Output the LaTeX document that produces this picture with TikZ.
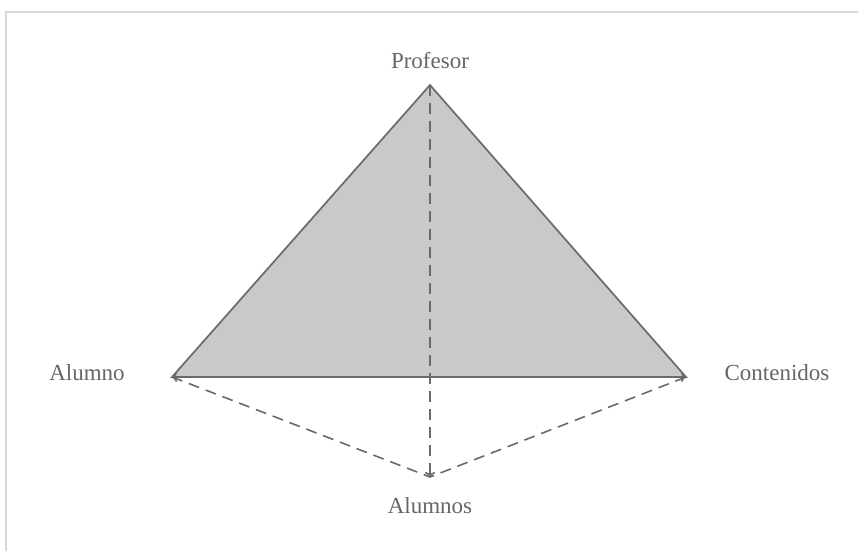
\documentclass[tikz,border=0pt]{standalone}
\usepackage{fontspec}
\setmainfont{Liberation Serif}
\usetikzlibrary{arrows.meta}
\definecolor{edge}{HTML}{6A6A6A}
\definecolor{fillg}{HTML}{C9C9C9}
\definecolor{txt}{HTML}{666666}
\definecolor{frame}{HTML}{D8D8D8}
\tikzset{
  lbl/.style={text=txt, font=\fontsize{23}{26}\selectfont, inner sep=0pt},
  tri/.style={draw=edge, line width=1.7pt, fill=fillg, line join=miter},
  dsh/.style={draw=edge, line width=1.6pt, dash pattern=on 11pt off 7pt},
}
\begin{document}
\begin{tikzpicture}[x=1pt,y=-1pt]
\useasboundingbox (0,0) rectangle (858,551);
\draw[frame, line width=2pt] (6,551) -- (6,12) -- (858,12);
\coordinate (P) at (430,85);
\coordinate (A) at (172,377);
\coordinate (C) at (686,377);
\coordinate (S) at (430,477);
\filldraw[tri] (P) -- (C) -- (A) -- cycle;
\draw[draw=edge, line width=1.7pt, {To[length=5pt,width=10pt]}-{To[length=5pt,width=10pt]}] (A) -- (C);
\draw[dsh] (A) -- (S) -- (C);
\draw[dsh, -{To[length=5pt,width=10pt]}] (P) -- (S);
\node[lbl] (lp) at (430,61) {Profesor};
\node[lbl] (la) at (87,373) {Alumno};
\node[lbl] (lc) at (777,373) {Contenidos};
\node[lbl] (ls) at (430,506) {Alumnos};
\end{tikzpicture}
\end{document}
